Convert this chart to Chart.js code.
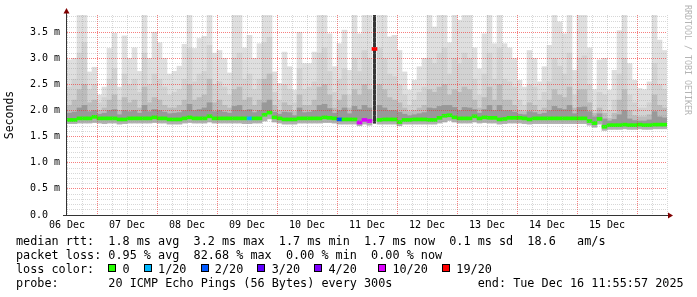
<!DOCTYPE html>
<html>
<head>
<meta charset="utf-8">
<script src="https://cdn.jsdelivr.net/npm/chart.js@4.4.1/dist/chart.umd.min.js"></script>
<style>
html, body { margin: 0; padding: 0; background: #fff; }
#wrap { position: relative; width: 697px; height: 297px; overflow: hidden; }
#chart { position: absolute; left: 0; top: 0; }
#legend { position: absolute; left: 16px; top: 234px; font: 11.8px "DejaVu Sans Mono", monospace; line-height: 14px; white-space: pre; color: #000; }
.sw { display: inline-block; width: 1ch; height: 14px; position: relative; vertical-align: top; }
.sw::before { content: ''; position: absolute; left: 0; top: 2px; width: 6px; height: 6px; border: 1px solid #000; background: var(--c); }
#credit { position: absolute; left: 683px; top: 5px; font: 8.3px "DejaVu Sans Mono", monospace; color: #b4b4b4; writing-mode: vertical-rl; }
</style>
</head>
<body>
<div id="wrap">
  <canvas id="chart" width="697" height="297"></canvas>
  <div id="legend"></div>
  <div id="credit">RRDTOOL / TOBI OETIKER</div>
</div>
<script>
// time axis: 2 hour buckets starting 06 Dec 00:00
const dayLabels = ['06 Dec', '07 Dec', '08 Dec', '09 Dec', '10 Dec', '11 Dec', '12 Dec', '13 Dec', '14 Dec', '15 Dec'];
const yTickLabels = ['0.0  ', '0.5 m', '1.0 m', '1.5 m', '2.0 m', '2.5 m', '3.0 m', '3.5 m'];

// smoke: ping rtt spread per bucket (ms)
const rttMax = [
  2.97, 3.0, 3.9, 3.9, 2.74, 2.83, 2.3, 2.45, 3.19, 3.48,
  2.45, 3.43, 3.0, 3.2, 2.75, 3.9, 3.0, 3.5, 3.3, 3.0,
  2.7, 2.75, 2.85, 3.27, 3.9, 3.19, 3.38, 3.42, 3.9, 3.1,
  3.15, 3.0, 2.72, 3.9, 3.9, 3.2, 3.44, 3.0, 3.28, 3.9,
  3.9, 2.74, 2.52, 3.12, 2.84, 2.39, 3.5, 2.9, 2.9, 3.12,
  3.9, 3.9, 3.47, 2.84, 3.28, 3.54, 2.77, 3.9, 3.47, 3.9,
  3.9, null, 3.9, 3.9, 3.41, 3.44, 3.15, 2.74, 2.39, 2.58,
  2.84, 3.0, 3.9, 3.6, 3.9, 3.9, 3.3, 3.9, 3.73, 3.9,
  3.9, 3.2, 2.8, 3.47, 3.9, 3.28, 3.9, 3.28, 3.2, 3.0,
  2.58, 2.45, 3.15, 3.0, 2.55, 2.84, 3.25, 3.9, 3.7, 3.47,
  3.9, 2.77, 3.9, 3.9, 3.2, 2.4, 2.97, 3.0, 2.39, 2.77,
  3.53, 3.9, 2.9, 2.58, 2.42, 2.4, 2.55, 3.9, 3.35, 3.15
];
const rttP90 = [
  2.45, 2.6, 3.1, 3.3, 2.4, 2.5, 2.15, 2.25, 2.6, 2.8,
  2.2, 2.7, 2.5, 2.6, 2.35, 3.1, 2.5, 2.7, 2.6, 2.45,
  2.3, 2.35, 2.4, 2.6, 3.2, 2.55, 2.7, 2.75, 3.25, 2.5,
  2.55, 2.45, 2.3, 3.0, 3.1, 2.6, 2.7, 2.4, 2.6, 3.3,
  3.4, 2.35, 2.2, 2.5, 2.4, 2.15, 2.8, 2.4, 2.45, 2.55,
  3.1, 3.2, 2.75, 2.35, 2.6, 2.8, 2.3, 3.0, 2.75, 3.15,
  3.0, null, 3.2, 3.0, 2.7, 2.65, 2.5, 2.3, 2.1, 2.2,
  2.35, 2.45, 3.0, 2.9, 3.1, 3.2, 2.7, 3.0, 2.9, 3.1,
  3.0, 2.6, 2.3, 2.7, 3.1, 2.6, 3.2, 2.6, 2.55, 2.45,
  2.2, 2.1, 2.5, 2.45, 2.2, 2.35, 2.55, 3.0, 2.85, 2.7,
  3.1, 2.3, 3.0, 3.05, 2.5, 2.0, 2.35, 2.3, 2.0, 2.2,
  2.7, 3.0, 2.3, 2.15, 2.05, 2.05, 2.15, 2.9, 2.5, 2.4
];
const rttP75 = [
  2.1, 2.2, 2.4, 2.5, 2.15, 2.2, 2.0, 2.05, 2.2, 2.3,
  2.0, 2.25, 2.15, 2.2, 2.05, 2.45, 2.15, 2.25, 2.2, 2.1,
  2.05, 2.05, 2.1, 2.2, 2.5, 2.2, 2.25, 2.3, 2.6, 2.15,
  2.2, 2.1, 2.05, 2.4, 2.45, 2.2, 2.25, 2.1, 2.2, 2.6,
  2.7, 2.1, 2.0, 2.15, 2.1, 1.98, 2.3, 2.1, 2.1, 2.2,
  2.45, 2.5, 2.3, 2.05, 2.2, 2.3, 2.05, 2.4, 2.3, 2.5,
  2.4, null, 2.5, 2.4, 2.25, 2.2, 2.15, 2.05, 1.98, 2.0,
  2.05, 2.1, 2.4, 2.35, 2.45, 2.5, 2.3, 2.4, 2.35, 2.45,
  2.4, 2.2, 2.05, 2.25, 2.45, 2.2, 2.5, 2.2, 2.2, 2.1,
  2.0, 1.98, 2.15, 2.1, 2.0, 2.05, 2.2, 2.4, 2.3, 2.25,
  2.45, 2.05, 2.4, 2.4, 2.15, 1.95, 2.05, 1.95, 1.85, 1.95,
  2.2, 2.4, 2.0, 1.9, 1.88, 1.88, 1.92, 2.3, 2.1, 2.05
];
const rttP60 = [
  1.95, 1.97, 2.05, 2.1, 1.98, 2.0, 1.93, 1.95, 2.0, 2.02,
  1.92, 2.0, 1.98, 2.0, 1.95, 2.1, 1.98, 2.02, 2.0, 1.97,
  1.94, 1.95, 1.96, 2.0, 2.12, 2.0, 2.02, 2.05, 2.15, 1.98,
  2.0, 1.97, 1.95, 2.08, 2.1, 2.0, 2.02, 1.96, 2.0, 2.15,
  2.2, 1.97, 1.93, 1.97, 1.96, 1.9, 2.05, 1.96, 1.97, 2.0,
  2.1, 2.12, 2.04, 1.95, 2.0, 2.05, 1.94, 2.08, 2.02, 2.1,
  2.05, null, 2.1, 2.05, 2.0, 2.0, 1.97, 1.93, 1.9, 1.92,
  1.94, 1.96, 2.05, 2.04, 2.08, 2.1, 2.1, 2.06, 2.0, 2.06,
  2.05, 2.02, 1.95, 2.02, 2.1, 2.0, 2.1, 2.0, 2.0, 1.97,
  1.93, 1.92, 1.98, 1.96, 1.93, 1.95, 2.0, 2.08, 2.04, 2.02,
  2.1, 1.94, 2.06, 2.07, 1.98, 1.88, 1.94, 1.84, 1.8, 1.83,
  1.92, 2.0, 1.84, 1.81, 1.8, 1.8, 1.82, 1.98, 1.88, 1.86
];
const rttMedian = [
  1.82, 1.82, 1.85, 1.85, 1.85, 1.88, 1.85, 1.85, 1.85, 1.85,
  1.83, 1.83, 1.85, 1.85, 1.85, 1.85, 1.85, 1.87, 1.85, 1.85,
  1.83, 1.83, 1.83, 1.85, 1.87, 1.85, 1.85, 1.85, 1.89, 1.85,
  1.85, 1.85, 1.85, 1.85, 1.85, 1.85, 1.85, 1.85, 1.85, 1.92,
  1.96, 1.87, 1.85, 1.83, 1.83, 1.83, 1.85, 1.85, 1.85, 1.85,
  1.85, 1.87, 1.86, 1.85, 1.83, 1.83, 1.83, 1.83, 1.77, 1.82,
  1.80, 3.18, 1.82, 1.83, 1.83, 1.83, 1.78, 1.82, 1.82, 1.83,
  1.83, 1.83, 1.82, 1.82, 1.86, 1.90, 1.91, 1.87, 1.85, 1.85,
  1.85, 1.89, 1.85, 1.87, 1.86, 1.86, 1.83, 1.84, 1.86, 1.86,
  1.86, 1.85, 1.83, 1.85, 1.85, 1.85, 1.85, 1.85, 1.85, 1.85,
  1.85, 1.85, 1.85, 1.85, 1.80, 1.76, 1.84, 1.69, 1.72, 1.72,
  1.72, 1.73, 1.72, 1.72, 1.73, 1.72, 1.72, 1.73, 1.73, 1.73
];
const rttMin = [
  1.75, 1.75, 1.76, 1.76, 1.76, 1.77, 1.76, 1.75, 1.76, 1.76,
  1.74, 1.75, 1.76, 1.76, 1.76, 1.76, 1.76, 1.77, 1.76, 1.76,
  1.74, 1.74, 1.74, 1.76, 1.77, 1.76, 1.76, 1.76, 1.78, 1.76,
  1.76, 1.76, 1.76, 1.76, 1.76, 1.75, 1.75, 1.76, 1.76, 1.8,
  1.84, 1.78, 1.76, 1.74, 1.74, 1.74, 1.76, 1.76, 1.76, 1.76,
  1.76, 1.77, 1.77, 1.76, 1.74, 1.74, 1.74, 1.74, 1.71, 1.74,
  1.72, null, 1.74, 1.74, 1.74, 1.74, 1.71, 1.74, 1.74, 1.74,
  1.74, 1.74, 1.74, 1.74, 1.76, 1.78, 1.81, 1.78, 1.76, 1.76,
  1.76, 1.78, 1.76, 1.77, 1.76, 1.76, 1.74, 1.75, 1.76, 1.76,
  1.76, 1.75, 1.74, 1.75, 1.75, 1.75, 1.75, 1.75, 1.75, 1.75,
  1.75, 1.75, 1.75, 1.75, 1.72, 1.68, 1.74, 1.62, 1.64, 1.64,
  1.64, 1.65, 1.64, 1.64, 1.65, 1.64, 1.64, 1.65, 1.65, 1.65
];

// packet loss (pings lost of 20) where not zero
const lossBuckets = [36, 54, 58, 59, 60, 61];
const lossValues = [1, 2, 10, 10, 10, 19];
// the 19/20 period shows as a dark column
const spikeBucket = 61;
const spikeRange = [1.75, 3.9];

const lossLabels = ['0', '1/20', '2/20', '3/20', '4/20', '10/20', '19/20'];
const lossSteps = [0, 1, 2, 3, 4, 10, 19];
const lossColors = ['#26ff00', '#00b8ff', '#0059ff', '#5e00ff', '#7e00ff', '#dd00ff', '#ff0000'];

const GRID = 'rgba(150,150,150,0.38)';
const MGRID = 'rgba(240,40,40,0.6)';
const LINE_HALF = 0.029;

const hours = rttMedian.map((_, i) => 2 * i + 1);

function lossColor(n) {
  let c = lossColors[0];
  lossSteps.forEach((s, k) => { if (n >= s) c = lossColors[k]; });
  return c;
}

function band(lo, hi) {
  const out = [];
  hi.forEach((v, i) => {
    if (v != null && lo[i] != null) out.push({ x: hours[i], y: [lo[i], v] });
  });
  return out;
}

const medianData = rttMedian.map((m, i) => {
  const k = lossBuckets.indexOf(i);
  return { x: hours[i], y: [m - LINE_HALF, m + LINE_HALF], loss: k >= 0 ? lossValues[k] : 0 };
});

const barBase = { grouped: false, barPercentage: 1, categoryPercentage: 1, borderWidth: 0 };

new Chart(document.getElementById('chart'), {
  type: 'bar',
  data: {
    datasets: [
      Object.assign({ data: medianData, backgroundColor: ctx => ctx.raw ? lossColor(ctx.raw.loss) : lossColors[0] }, barBase),
      Object.assign({}, barBase, { data: [{ x: hours[spikeBucket], y: spikeRange }], backgroundColor: '#353535', barPercentage: 0.6 }),
      Object.assign({ data: band(rttMin, rttMedian), backgroundColor: '#b0b0b0' }, barBase),
      Object.assign({ data: band(rttMedian, rttP60), backgroundColor: '#999999' }, barBase),
      Object.assign({ data: band(rttP60, rttP75), backgroundColor: '#bcbcbc' }, barBase),
      Object.assign({ data: band(rttP75, rttP90), backgroundColor: '#d2d2d2' }, barBase),
      Object.assign({ data: band(rttP90, rttMax), backgroundColor: '#dfdfdf' }, barBase)
    ]
  },
  options: {
    responsive: false,
    animation: false,
    events: [],
    layout: { padding: { left: 0, top: 15, right: 30, bottom: 0 } },
    plugins: { legend: { display: false }, tooltip: { enabled: false } },
    scales: {
      x: {
        type: 'linear', min: 0, max: 240, offset: false,
        afterBuildTicks: s => { s.ticks = Array.from({ length: 41 }, (_, k) => ({ value: k * 6 })); },
        afterFit: s => { s.height = 82; },
        grid: { z: 1, offset: false, drawTicks: false, lineWidth: 1,
          color: c => (c.tick && c.tick.value % 24 === 12) ? MGRID : GRID },
        border: { display: false, dash: [1, 1] },
        ticks: {
          autoSkip: false, maxRotation: 0, padding: 4, color: '#000',
          font: { family: 'DejaVu Sans Mono', size: 10 },
          callback: v => (v % 24 === 0 && v / 24 < dayLabels.length) ? dayLabels[v / 24] : ''
        }
      },
      y: {
        min: 0, max: 3.83,
        afterBuildTicks: s => { s.ticks = Array.from({ length: 39 }, (_, k) => ({ value: k / 10 })); },
        afterFit: s => { s.width = 67; },
        grid: { z: 1, drawTicks: false, lineWidth: 1,
          color: c => (c.tick && Math.round(c.tick.value * 10) % 5 === 0) ? MGRID : GRID },
        border: { display: false, dash: [1, 1] },
        ticks: {
          autoSkip: false, padding: 7, color: '#000',
          font: { family: 'DejaVu Sans Mono', size: 10 },
          callback: v => {
            const k = Math.round(v * 10);
            return k % 5 === 0 ? (yTickLabels[k / 5] || '') : '';
          }
        },
        title: { display: true, text: 'Seconds', color: '#000',
          font: { family: 'DejaVu Sans Mono', size: 11.5 }, padding: { top: 3, bottom: 0 } }
      }
    }
  },
  plugins: [{
    id: 'rrdAxes',
    afterDraw(chart) {
      const { ctx, chartArea: a } = chart;
      ctx.save();
      ctx.strokeStyle = '#333';
      ctx.lineWidth = 1;
      ctx.beginPath();
      ctx.moveTo(a.left - 0.5, a.bottom + 1);
      ctx.lineTo(a.left - 0.5, 11);
      ctx.moveTo(a.left - 4, a.bottom + 0.5);
      ctx.lineTo(a.right + 2, a.bottom + 0.5);
      ctx.stroke();
      ctx.fillStyle = '#800000';
      ctx.beginPath();
      ctx.moveTo(a.left - 3.5, 13.5);
      ctx.lineTo(a.left + 2.5, 13.5);
      ctx.lineTo(a.left - 0.5, 8);
      ctx.closePath();
      ctx.fill();
      ctx.beginPath();
      ctx.moveTo(a.right + 1, a.bottom - 2.5);
      ctx.lineTo(a.right + 1, a.bottom + 3.5);
      ctx.lineTo(a.right + 6, a.bottom + 0.5);
      ctx.closePath();
      ctx.fill();
      ctx.restore();
    }
  }]
});

// legend block below the graph
const seps = ['  ', '  ', '  ', '  ', '   ', '  '];
let lossRow = 'loss color:  ';
lossLabels.forEach((l, i) => {
  lossRow += '<span class="sw" style="--c:' + lossColors[i] + '"></span> ' + l + (i < seps.length ? seps[i] : '');
});
document.getElementById('legend').innerHTML = [
  'median rtt:  1.8 ms avg  3.2 ms max  1.7 ms min  1.7 ms now  0.1 ms sd  18.6   am/s',
  'packet loss: 0.95 % avg  82.68 % max  0.00 % min  0.00 % now',
  lossRow,
  'probe:       20 ICMP Echo Pings (56 Bytes) every 300s            end: Tue Dec 16 11:55:57 2025'
].join('\n');
</script>
</body>
</html>
